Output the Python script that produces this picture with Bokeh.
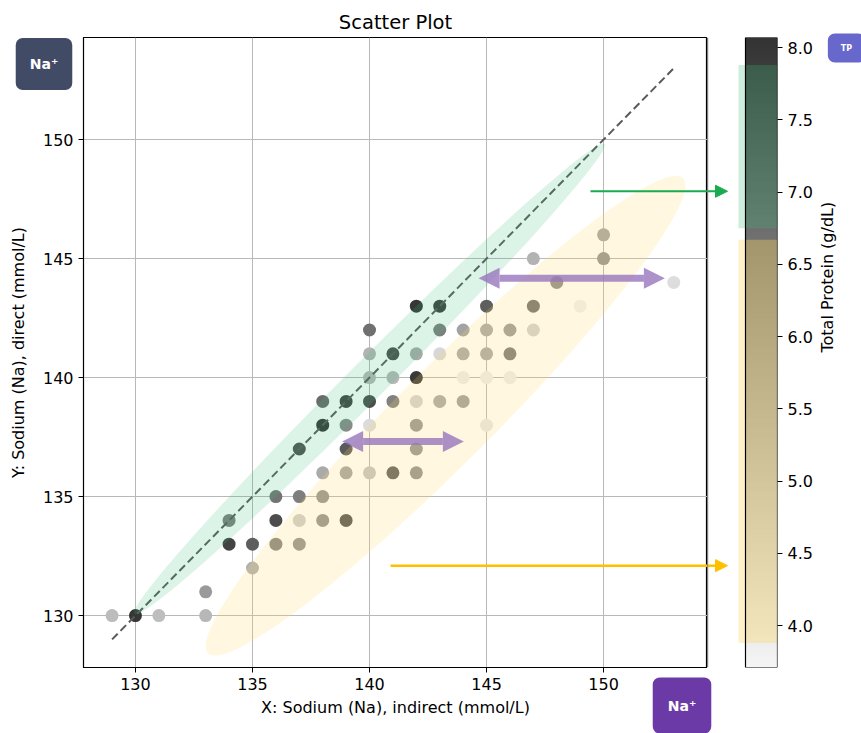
import numpy as np
from bokeh.plotting import figure
from bokeh.models import (LinearColorMapper, Range1d, Arrow, NormalHead, Label,
                          FixedTicker, ColumnDataSource, NumeralTickFormatter)
from bokeh.layouts import row
from bokeh.embed import file_html
from bokeh.resources import INLINE

# ---------------- data ----------------
na_indirect = [150,
               147, 150,
               148, 153,
               142, 143, 145, 147, 149,
               140, 143, 144, 145, 146, 147,
               140, 141, 142, 143, 144, 145, 146,
               140, 141, 142, 144, 145, 146,
               138, 139, 140, 141, 142, 143, 144,
               138, 139, 140, 142, 145,
               137, 139, 142,
               138, 139, 140, 141, 142,
               136, 137, 138,
               134, 136, 137, 138, 139,
               134, 135, 136, 137,
               135,
               133,
               129, 130, 131, 133]
na_direct = [146,
             145, 145,
             144, 144,
             143, 143, 143, 143, 143,
             142, 142, 142, 142, 142, 142,
             141, 141, 141, 141, 141, 141, 141,
             140, 140, 140, 140, 140, 140,
             139, 139, 139, 139, 139, 139, 139,
             138, 138, 138, 138, 138,
             137, 137, 137,
             136, 136, 136, 136, 136,
             135, 135, 135,
             134, 134, 134, 134, 134,
             133, 133, 133, 133,
             132,
             131,
             130, 130, 130, 130]
total_protein = [5.5,
                 5.2, 5.9,
                 6.0, 4.25,
                 8.0, 7.8, 7.1, 6.6, 3.8,
                 6.7, 6.4, 5.55, 5.4, 5.7, 4.5,
                 5.2, 7.5, 5.4, 4.4, 5.4, 5.4, 6.4,
                 5.1, 5.1, 7.9, 3.9, 3.9, 3.9,
                 6.8, 7.7, 7.5, 6.3, 4.5, 5.4, 5.6,
                 8.0, 6.1, 4.3, 5.8, 4.0,
                 7.4, 7.2, 5.8,
                 5.4, 5.5, 4.8, 7.0, 5.9,
                 6.6, 6.4, 5.9,
                 6.4, 7.5, 4.6, 5.9, 7.3,
                 7.7, 7.1, 6.2, 5.9,
                 5.25,
                 5.75,
                 5.0, 8.0, 4.95, 5.1]

x_ticks = [130, 135, 140, 145, 150]
y_ticks = [130, 135, 140, 145, 150]
tp_ticks = [4.0, 4.5, 5.0, 5.5, 6.0, 6.5, 7.0, 7.5, 8.0]
tp_low, tp_high = 3.71, 8.07

FONT = "DejaVu Sans"
X_LO, X_HI = 127.78, 154.44
Y_LO, Y_HI = 127.82, 154.29

# grey palette (light -> dark)
palette = []
for i in range(256):
    g = int(round(245 - (245 - 51) * i / 255))
    palette.append("#%02x%02x%02x" % (g, g, g))
mapper = LinearColorMapper(palette=palette, low=tp_low, high=tp_high)

src = ColumnDataSource(dict(x=na_indirect, y=na_direct, tp=total_protein))

# ---------------- main plot ----------------
p = figure(width=707, height=733,
           x_range=Range1d(X_LO, X_HI), y_range=Range1d(Y_LO, Y_HI),
           output_backend="svg", toolbar_location=None,
           min_border_left=83, min_border_right=0, min_border_top=37, min_border_bottom=66,
           title="Scatter Plot")
p.title.align = "center"
p.title.text_font = FONT
p.title.text_font_size = "19.5px"
p.title.text_font_style = "normal"
p.title.text_color = "black"
p.title.standoff = 8
p.outline_line_color = "black"
p.outline_line_width = 1.2
p.background_fill_color = "white"
p.border_fill_color = "white"

p.xaxis.ticker = FixedTicker(ticks=x_ticks)
p.yaxis.ticker = FixedTicker(ticks=y_ticks)
for ax in (p.xaxis[0], p.yaxis[0]):
    ax.major_label_text_font = FONT
    ax.major_label_text_font_size = "16px"
    ax.major_label_text_color = "black"
    ax.axis_label_text_font = FONT
    ax.axis_label_text_font_size = "16px"
    ax.axis_label_text_font_style = "normal"
    ax.axis_label_text_color = "black"
    ax.minor_tick_line_color = None
    ax.major_tick_in = 0
    ax.major_tick_out = 5
    ax.axis_line_color = "black"
p.xaxis.axis_label = "X: Sodium (Na), indirect (mmol/L)"
p.yaxis.axis_label = "Y: Sodium (Na), direct (mmol/L)"
p.yaxis.axis_label_standoff = 12
p.grid.grid_line_color = "#b8b8b8"
p.grid.grid_line_width = 1

p.scatter("x", "y", source=src, size=13,
          fill_color={"field": "tp", "transform": mapper}, line_color=None)

lo, hi = min(na_indirect), max(na_indirect)
p.line([lo, hi], [lo, hi], line_color="#5a5a5a", line_width=2, line_dash="8 4")

p.ellipse(x=[140.0], y=[139.95], width=28.4, height=1.6, angle=np.pi / 4,
          fill_color="#3fbe7c", fill_alpha=0.18, line_color=None)
p.ellipse(x=[143.25], y=[138.4], width=28.7, height=4.0, angle=np.pi / 4,
          fill_color="#ffd764", fill_alpha=0.2, line_color=None)

purple = "#9775bd"
for xs, xe, yy in [(144.66, 152.62, 144.17), (138.83, 144.03, 137.32)]:
    p.add_layout(Arrow(
        start=NormalHead(size=21, fill_color=purple, fill_alpha=0.8, line_color=None),
        end=NormalHead(size=21, fill_color=purple, fill_alpha=0.8, line_color=None),
        x_start=xs, y_start=yy, x_end=xe, y_end=yy,
        line_color=purple, line_width=7, line_alpha=0.8))

# pointer arrows: part inside the scatter frame (clipped at its right edge)
pointers = [(149.44, 147.83, "#1aaa50", 2), (140.9, 132.1, "#ffc000", 2.5)]
for xs, yy, col, lw in pointers:
    p.segment(x0=[xs], y0=[yy], x1=[X_HI + 5], y1=[yy], line_color=col, line_width=lw)

# ---------------- colorbar ----------------
cb = figure(width=154, height=733,
            x_range=Range1d(0, 70), y_range=Range1d(tp_low, tp_high),
            output_backend="svg", toolbar_location=None,
            min_border_left=0, min_border_right=84, min_border_top=37, min_border_bottom=66,
            x_axis_location=None, y_axis_location="right")
cb.outline_line_color = None
cb.grid.visible = False
cb.background_fill_color = "white"
cb.border_fill_color = "white"

grad = np.linspace(tp_low, tp_high, 256).reshape(256, 1)
cb.image(image=[grad], x=38, y=tp_low, dw=32, dh=tp_high - tp_low, color_mapper=mapper)
cb.quad(left=[31], right=[70], bottom=[6.75], top=[7.88],
        fill_color="#3fbe7c", fill_alpha=0.26, line_color=None)
cb.quad(left=[31], right=[70], bottom=[3.88], top=[6.67],
        fill_color="#ffd764", fill_alpha=0.36, line_color=None)
cb.quad(left=[38], right=[70], bottom=[tp_low], top=[tp_high],
        fill_color=None, line_color="black", line_width=1.2)
cb.segment(x0=[0], y0=[tp_low], x1=[0], y1=[tp_high], line_color="black", line_width=1.2)

for xs, yy, col, lw in pointers:
    ty = tp_high - (Y_HI - yy) / (Y_HI - Y_LO) * (tp_high - tp_low)
    cb.add_layout(Arrow(end=NormalHead(size=12, fill_color=col, line_color=col),
                        x_start=0, y_start=ty, x_end=20, y_end=ty,
                        line_color=col, line_width=lw))

cax = cb.yaxis[0]
cax.ticker = FixedTicker(ticks=tp_ticks)
cax.formatter = NumeralTickFormatter(format="0.0")
cax.major_label_text_font = FONT
cax.major_label_text_font_size = "16px"
cax.major_label_text_color = "black"
cax.axis_label = "Total Protein (g/dL)"
cax.axis_label_text_font = FONT
cax.axis_label_text_font_size = "16px"
cax.axis_label_text_font_style = "normal"
cax.axis_label_text_color = "black"
cax.axis_label_standoff = 12
cax.minor_tick_line_color = None
cax.major_tick_in = 0
cax.major_tick_out = 5
cax.axis_line_color = None
if "axis_label_orientation" in cax.properties():
    cax.axis_label_orientation = np.pi / 2

# ---------------- badges: one transparent overlay in page pixels ----------------
ov = figure(width=861, height=733, x_range=Range1d(0, 861), y_range=Range1d(733, 0),
            output_backend="svg", toolbar_location=None, min_border=0,
            x_axis_location=None, y_axis_location=None,
            styles={"position": "absolute", "left": "0px", "top": "0px",
                    "pointer-events": "none"})
ov.outline_line_color = None
ov.background_fill_color = None
ov.border_fill_color = None
ov.grid.visible = False

badges = [("Na\u207a", 43.5, 63.5, "#414b66", "14px", (14, 14, 18, 18)),
          ("Na\u207a", 681.5, 705.0, "#6c3aa6", "14px", (15, 15, 20, 20)),
          ("TP", 846.0, 47.5, "#6767cc", "8px", (13, 13, 10, 10))]
for text, cx, cy, color, size, pad in badges:
    ov.add_layout(Label(x=cx, y=cy, text=text, text_color="white", text_font=FONT,
                        text_font_style="bold", text_font_size=size,
                        text_align="center", text_baseline="middle",
                        background_fill_color=color, border_radius=7, padding=pad))

layout = row(p, cb)
open("out.html", "w").write(file_html([layout, ov], INLINE))
